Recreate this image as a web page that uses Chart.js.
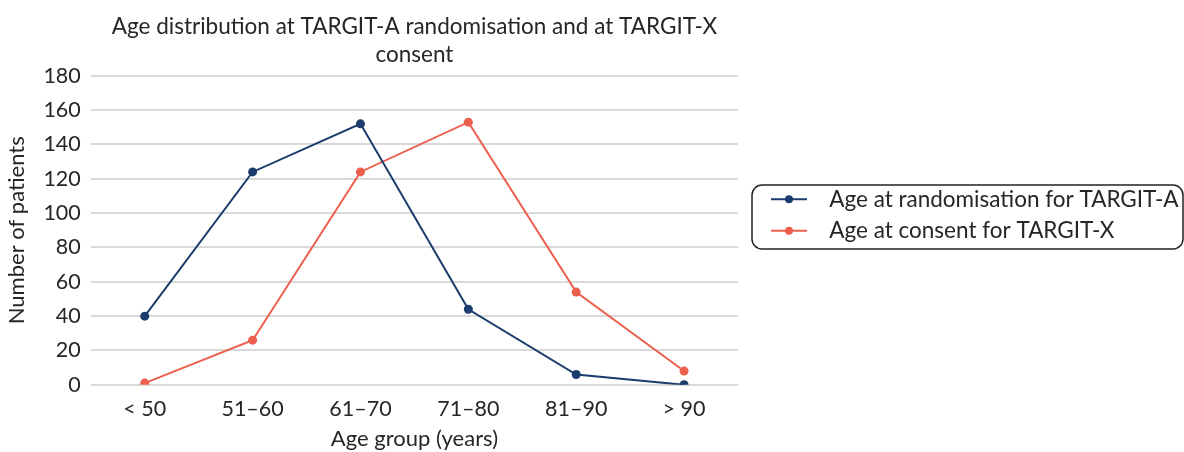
<!DOCTYPE html>
<html>
<head>
<meta charset="utf-8">
<script src="https://cdn.jsdelivr.net/npm/chart.js@4/dist/chart.umd.min.js"></script>
<style>
  html, body { margin: 0; padding: 0; background: #ffffff; }
  #wrap { width: 1184px; height: 452px; }
</style>
</head>
<body>
<div id="wrap"><canvas id="ageChart"></canvas></div>
<script>
const ageGroups = ["< 50", "51\u201360", "61\u201370", "71\u201380", "81\u201390", "> 90"];
const targitA = [40, 124, 152, 44, 6, 0];
const targitX = [1, 26, 124, 153, 54, 8];
const yTicks = [0, 20, 40, 60, 80, 100, 120, 140, 160, 180];

const blue = "#1b3d6e";
const red = "#ec5f4d";
const textCol = "#262626";
const legendWidth = 446;

// legend: fixed width, line+dot marker and a rounded frame round the items
const legendFrame = {
  id: "legendFrame",
  beforeLayout(chart) {
    const lg = chart.legend;
    if (lg && !lg._fixedFit) {
      const fit = lg.fit.bind(lg);
      lg.fit = function () {
        fit();
        this.width = legendWidth;
      };
      lg._fixedFit = true;
    }
  },
  afterDraw(chart) {
    const lg = chart.legend;
    if (!lg || !lg.legendHitBoxes || !lg.legendHitBoxes.length) return;
    const ctx = chart.ctx;
    const boxes = lg.legendHitBoxes;
    ctx.save();
    boxes.forEach((b, i) => {
      const ds = chart.data.datasets[i];
      const cy = b.top + b.height / 2;
      ctx.strokeStyle = ds.borderColor;
      ctx.lineWidth = 2;
      ctx.beginPath();
      ctx.moveTo(b.left + 24, cy);
      ctx.lineTo(b.left + 60, cy);
      ctx.stroke();
      ctx.fillStyle = ds.borderColor;
      ctx.beginPath();
      ctx.arc(b.left + 42, cy, 4, 0, Math.PI * 2);
      ctx.fill();
    });
    const first = boxes[0], last = boxes[boxes.length - 1];
    const x0 = lg.left + 14, x1 = chart.width - 1;
    const y0 = first.top - 3, y1 = last.top + last.height + 7, r = 10;
    ctx.strokeStyle = "#222222";
    ctx.lineWidth = 1.5;
    ctx.beginPath();
    ctx.moveTo(x0 + r, y0);
    ctx.lineTo(x1 - r, y0);
    ctx.arcTo(x1, y0, x1, y0 + r, r);
    ctx.lineTo(x1, y1 - r);
    ctx.arcTo(x1, y1, x1 - r, y1, r);
    ctx.lineTo(x0 + r, y1);
    ctx.arcTo(x0, y1, x0, y1 - r, r);
    ctx.lineTo(x0, y0 + r);
    ctx.arcTo(x0, y0, x0 + r, y0, r);
    ctx.stroke();
    ctx.restore();
  }
};

Chart.defaults.font.family = "Lato, 'Open Sans', sans-serif";
Chart.defaults.color = textCol;

new Chart(document.getElementById("ageChart"), {
  type: "line",
  data: {
    labels: ageGroups,
    datasets: [
      {
        label: "Age at randomisation for TARGIT-A",
        data: targitA,
        borderColor: blue,
        backgroundColor: blue,
        borderWidth: 2,
        pointRadius: 4.5,
        pointBorderWidth: 0,
        tension: 0
      },
      {
        label: "Age at consent for TARGIT-X",
        data: targitX,
        borderColor: red,
        backgroundColor: red,
        borderWidth: 2,
        pointRadius: 4.5,
        pointBorderWidth: 0,
        tension: 0
      }
    ]
  },
  options: {
    responsive: true,
    maintainAspectRatio: false,
    animation: false,
    layout: { padding: { top: 0, right: 0, bottom: 0, left: 4 } },
    plugins: {
      title: {
        display: true,
        text: ["Age distribution at TARGIT-A randomisation and at TARGIT-X", "consent"],
        fullSize: false,
        color: textCol,
        font: { size: 22.5, weight: "normal", lineHeight: 1.24 },
        padding: { top: 13, bottom: 7 }
      },
      legend: {
        position: "right",
        align: "start",
        title: {
          display: true,
          text: " ",
          font: { size: 10, lineHeight: 1 },
          padding: { top: 169, bottom: 0 }
        },
        labels: {
          boxWidth: 71,
          boxHeight: 2,
          padding: 9,
          font: { size: 22.5 },
          color: textCol,
          generateLabels(chart) {
            return chart.data.datasets.map((ds, i) => ({
              text: ds.label,
              fillStyle: "rgba(0,0,0,0)",
              strokeStyle: "rgba(0,0,0,0)",
              lineWidth: 0,
              datasetIndex: i
            }));
          }
        }
      },
      tooltip: { enabled: false }
    },
    scales: {
      x: {
        offset: true,
        grid: { display: false },
        border: { display: false },
        ticks: { font: { size: 21.5 }, color: textCol, padding: 3.5 },
        title: {
          display: true,
          text: "Age group (years)",
          font: { size: 22 },
          color: textCol,
          padding: { top: 0, bottom: 0 }
        }
      },
      y: {
        min: 0,
        max: 180,
        afterBuildTicks(axis) {
          axis.ticks = yTicks.map(v => ({ value: v }));
        },
        grid: { color: "#d9d9d9", lineWidth: 2, drawTicks: false },
        border: { display: false },
        ticks: { font: { size: 21.5 }, color: textCol, padding: 10 },
        title: {
          display: true,
          text: "Number of patients",
          font: { size: 22 },
          color: textCol,
          padding: { top: 0, bottom: 3 }
        }
      }
    }
  },
  plugins: [legendFrame]
});
</script>
</body>
</html>
